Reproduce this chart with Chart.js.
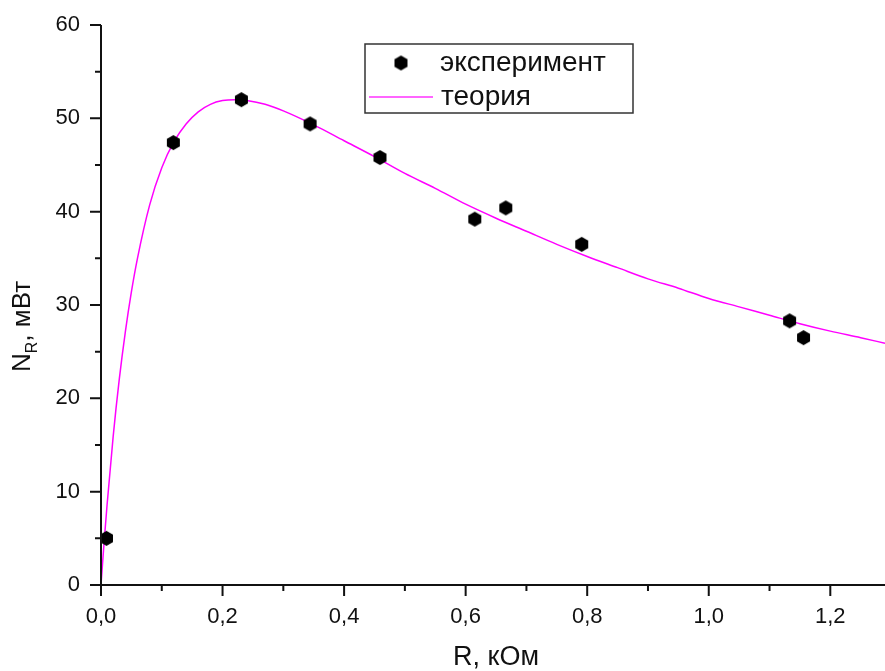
<!DOCTYPE html>
<html>
<head>
<meta charset="utf-8">
<script src="https://cdn.jsdelivr.net/npm/chart.js@4"></script>
<style>
  body { margin: 0; background: #fff; }
  #wrap { width: 885px; height: 671px; }
</style>
</head>
<body>
<div id="wrap"><canvas id="chart" width="885" height="671"></canvas></div>
<script>
// experimental points, R in kOhm, N in mW
const expR = [0.009, 0.119, 0.231, 0.344, 0.459, 0.615, 0.666, 0.791, 1.133, 1.156];
const expN = [5.0, 47.4, 52.0, 49.4, 45.8, 39.2, 40.4, 36.5, 28.3, 26.5];

// theory curve
const theoryR = [0, 0.005, 0.01, 0.02, 0.03, 0.04, 0.05, 0.06, 0.08, 0.10, 0.12, 0.14, 0.16, 0.18, 0.20,
  0.22, 0.24, 0.27, 0.30, 0.35, 0.40, 0.45, 0.50, 0.55, 0.60, 0.65, 0.70, 0.75, 0.80, 0.85, 0.90,
  0.95, 1.00, 1.05, 1.10, 1.15, 1.20, 1.25, 1.29];
const theoryN = [0, 4.5, 8.6, 15.9, 22.0, 27.1, 31.4, 35.0, 40.7, 44.7, 47.5, 49.4, 50.7, 51.5, 51.9,
  52.0, 51.9, 51.5, 50.8, 49.3, 47.6, 45.9, 44.1, 42.5, 40.8, 39.3, 37.9, 36.5, 35.2, 34.0, 32.8,
  31.8, 30.7, 29.8, 28.9, 28.0, 27.2, 26.5, 25.9];

const seriesNames = ["эксперимент", "теория"];
const xTitle = "R, кОм";

const xMajor = [0, 0.2, 0.4, 0.6, 0.8, 1.0, 1.2];
const xMinor = [0.1, 0.3, 0.5, 0.7, 0.9, 1.1];
const yMajor = [0, 10, 20, 30, 40, 50, 60];
const yMinor = [5, 15, 25, 35, 45, 55];

const FONT = "'Liberation Sans', Arial, sans-serif";
const INK = "#111";

// hexagon marker
function hexMarker(r) {
  const c = document.createElement("canvas");
  c.width = c.height = Math.ceil(r * 2 + 2);
  const g = c.getContext("2d");
  const m = c.width / 2;
  g.fillStyle = "#000";
  g.beginPath();
  for (let i = 0; i < 6; i++) {
    const a = Math.PI / 6 + i * Math.PI / 3;
    const px = m + r * Math.cos(a), py = m + r * Math.sin(a);
    if (i === 0) g.moveTo(px, py); else g.lineTo(px, py);
  }
  g.closePath();
  g.fill();
  return c;
}
const hex = hexMarker(7.5);

const decorations = {
  id: "decorations",
  afterDraw(chart) {
    const ctx = chart.ctx;
    const xs = chart.scales.x, ys = chart.scales.y;
    const a = chart.chartArea;
    ctx.save();
    ctx.strokeStyle = INK;
    ctx.lineWidth = 2;
    ctx.beginPath();
    ctx.moveTo(a.left, a.top);
    ctx.lineTo(a.left, a.bottom);
    ctx.lineTo(a.right, a.bottom);
    xMajor.forEach(v => { const p = xs.getPixelForValue(v); ctx.moveTo(p, a.bottom); ctx.lineTo(p, a.bottom + 11); });
    xMinor.forEach(v => { const p = xs.getPixelForValue(v); ctx.moveTo(p, a.bottom); ctx.lineTo(p, a.bottom + 6); });
    yMajor.forEach(v => { const p = ys.getPixelForValue(v); ctx.moveTo(a.left, p); ctx.lineTo(a.left - 11, p); });
    yMinor.forEach(v => { const p = ys.getPixelForValue(v); ctx.moveTo(a.left, p); ctx.lineTo(a.left - 6, p); });
    ctx.stroke();

    // axis titles
    ctx.fillStyle = INK;
    ctx.textBaseline = "alphabetic";
    ctx.font = "27px " + FONT;
    ctx.textAlign = "center";
    ctx.fillText(xTitle, 496, 665);

    ctx.save();
    ctx.translate(30, 372);
    ctx.rotate(-Math.PI / 2);
    ctx.textAlign = "left";
    ctx.font = "26px " + FONT;
    let x = 0;
    ctx.fillText("N", x, 0); x += ctx.measureText("N").width;
    ctx.font = "16px " + FONT;
    ctx.fillText("R", x, 7); x += ctx.measureText("R").width;
    ctx.font = "26px " + FONT;
    ctx.fillText(", мВт", x, 0);
    ctx.restore();

    // legend box
    ctx.lineWidth = 1.5;
    ctx.strokeStyle = "#333";
    ctx.strokeRect(365, 44, 268, 69);
    ctx.drawImage(hex, 401 - hex.width / 2, 63 - hex.height / 2);
    ctx.strokeStyle = "#ff33ff";
    ctx.lineWidth = 1.5;
    ctx.beginPath();
    ctx.moveTo(369, 97);
    ctx.lineTo(433, 97);
    ctx.stroke();
    ctx.font = "28px " + FONT;
    ctx.textAlign = "left";
    ctx.textBaseline = "middle";
    ctx.fillText(seriesNames[0], 440, 63);
    ctx.fillText(seriesNames[1], 441, 97);
    ctx.restore();
  }
};

new Chart(document.getElementById("chart"), {
  type: "scatter",
  data: {
    datasets: [
      {
        label: seriesNames[1],
        type: "line",
        data: theoryR.map((r, i) => ({ x: r, y: theoryN[i] })),
        borderColor: "#ff00ff",
        borderWidth: 1.5,
        pointRadius: 0,
        cubicInterpolationMode: "monotone",
        fill: false,
        order: 2
      },
      {
        label: seriesNames[0],
        data: expR.map((r, i) => ({ x: r, y: expN[i] })),
        pointStyle: hex,
        pointRadius: 7.5,
        backgroundColor: "#000",
        order: 1
      }
    ]
  },
  options: {
    responsive: false,
    animation: false,
    layout: { autoPadding: false, padding: { top: 25, right: 0, left: 0, bottom: 0 } },
    plugins: { legend: { display: false }, tooltip: { enabled: false } },
    scales: {
      x: {
        type: "linear",
        min: 0,
        max: 1.29,
        grid: { display: false, drawTicks: false },
        border: { display: false },
        ticks: {
          stepSize: 0.2,
          includeBounds: false,
          padding: 19,
          color: INK,
          font: { family: FONT, size: 22 },
          maxRotation: 0,
          callback: v => v.toFixed(1).replace(".", ",")
        },
        afterFit: s => { s.height = 86; s.paddingLeft = 0; s.paddingRight = 0; }
      },
      y: {
        min: 0,
        max: 60,
        grid: { display: false, drawTicks: false },
        border: { display: false },
        ticks: {
          stepSize: 10,
          padding: 21,
          color: INK,
          font: { family: FONT, size: 22 }
        },
        afterFit: s => { s.width = 101; s.paddingTop = 0; s.paddingBottom = 0; }
      }
    }
  },
  plugins: [decorations]
});
</script>
</body>
</html>
